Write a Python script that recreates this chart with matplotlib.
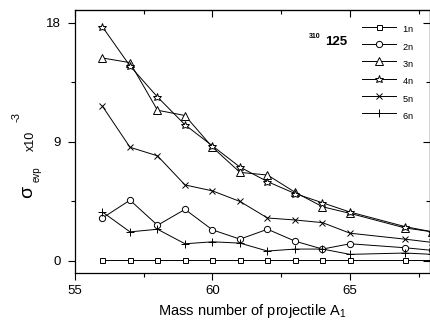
import matplotlib
matplotlib.use("Agg")
import matplotlib.pyplot as plt
from matplotlib.ticker import MultipleLocator

plt.rcParams['font.family'] = ['Liberation Sans', 'DejaVu Sans']
plt.rcParams['mathtext.default'] = 'regular'

# Mass number of projectile
mass = [56, 57, 58, 59, 60, 61, 62, 63, 64, 65, 67, 68]

# evaporation cross sections (x10^-3)
sig_1n = [0.05, 0.05, 0.05, 0.05, 0.05, 0.05, 0.05, 0.05, 0.05, 0.05, 0.05, 0.05]
sig_2n = [3.25, 4.6, 2.7, 3.9, 2.35, 1.65, 2.4, 1.5, 0.9, 1.3, 1.0, 0.8]
sig_3n = [15.35, 15.0, 11.4, 11.0, 8.6, 6.7, 6.5, 5.2, 4.1, 3.6, 2.5, 2.2]
sig_4n = [17.7, 14.75, 12.4, 10.3, 8.7, 7.1, 6.0, 5.1, 4.4, 3.7, 2.6, 2.2]
sig_5n = [11.7, 8.6, 7.95, 5.75, 5.3, 4.5, 3.25, 3.1, 2.9, 2.1, 1.65, 1.4]
sig_6n = [3.7, 2.2, 2.4, 1.3, 1.45, 1.35, 0.75, 0.9, 0.9, 0.5, 0.6, 0.5]

series = [
    (sig_1n, 's', 3.6, '1n'),
    (sig_2n, 'o', 4.5, '2n'),
    (sig_3n, '^', 5.2, '3n'),
    (sig_4n, '*', 6.2, '4n'),
    (sig_5n, 'x', 5.0, '5n'),
    (sig_6n, '+', 5.5, '6n'),
]

fig = plt.figure(figsize=(4.3, 3.25), dpi=100)
ax = fig.add_axes([75 / 430, 52 / 325, 355 / 430, 263 / 325])

for vals, mk, ms, lab in series:
    # labels drawn as subscripts like the original legend
    ax.plot(mass, vals, color='black', lw=0.7, marker=mk, ms=ms,
            mfc='white', mec='black', mew=0.7, label='$_{%s}$' % lab)

ax.set_xlim(55, 67.91)
ax.set_ylim(-0.91, 18.98)

ax.xaxis.set_major_locator(MultipleLocator(5))
ax.xaxis.set_minor_locator(MultipleLocator(2.5))
ax.yaxis.set_major_locator(MultipleLocator(9))
ax.yaxis.set_minor_locator(MultipleLocator(4.5))

ax.tick_params(axis='both', which='both', labelsize=9.5, width=0.8,
               direction='out')
ax.tick_params(axis='both', which='major', length=5)
ax.tick_params(axis='both', which='minor', length=3)
ax.tick_params(axis='x', which='both', pad=4)
ax.tick_params(axis='y', which='both', pad=5)
for s in ax.spines.values():
    s.set_linewidth(0.9)

# inward ticks on top and right
top = ax.secondary_xaxis('top')
top.xaxis.set_major_locator(MultipleLocator(5))
top.xaxis.set_minor_locator(MultipleLocator(2.5))
top.tick_params(which='both', direction='in', labeltop=False, width=0.8)
top.tick_params(which='major', length=5)
top.tick_params(which='minor', length=3)
right = ax.secondary_yaxis('right')
right.yaxis.set_major_locator(MultipleLocator(9))
right.yaxis.set_minor_locator(MultipleLocator(4.5))
right.tick_params(which='both', direction='in', labelright=False, width=0.8)
right.tick_params(which='major', length=5)
right.tick_params(which='minor', length=3)

ax.set_xlabel('Mass number of projectile A$_1$', fontsize=10.5, labelpad=3)

# y label built from pieces
fig.text(28 / 430, 1 - 192 / 325, 'σ', fontsize=14, rotation=90,
         ha='center', va='center')
fig.text(37 / 430, 1 - 174 / 325, 'evp', fontsize=7, rotation=90,
         ha='center', va='center')
fig.text(31 / 430, 1 - 141 / 325, 'x10', fontsize=9, rotation=90,
         ha='center', va='center')
fig.text(16 / 430, 1 - 117 / 325, '-3', fontsize=8, rotation=90,
         ha='center', va='center')

# nucleus label
fig.text(315 / 430, 1 - 36 / 325, '310', fontsize=5, weight='bold',
         ha='center', va='center')
fig.text(336.5 / 430, 1 - 42 / 325, '125', fontsize=9.5, weight='bold',
         ha='center', va='center')

leg = ax.legend(loc='upper left', bbox_to_anchor=(362 / 430, 1 - 22 / 325),
                bbox_transform=fig.transFigure, frameon=False, fontsize=9.5,
                handlelength=2.6, handletextpad=0.45, labelspacing=0.3,
                borderpad=0, borderaxespad=0, markerscale=1.0)

fig.savefig('out.png', dpi=100)
